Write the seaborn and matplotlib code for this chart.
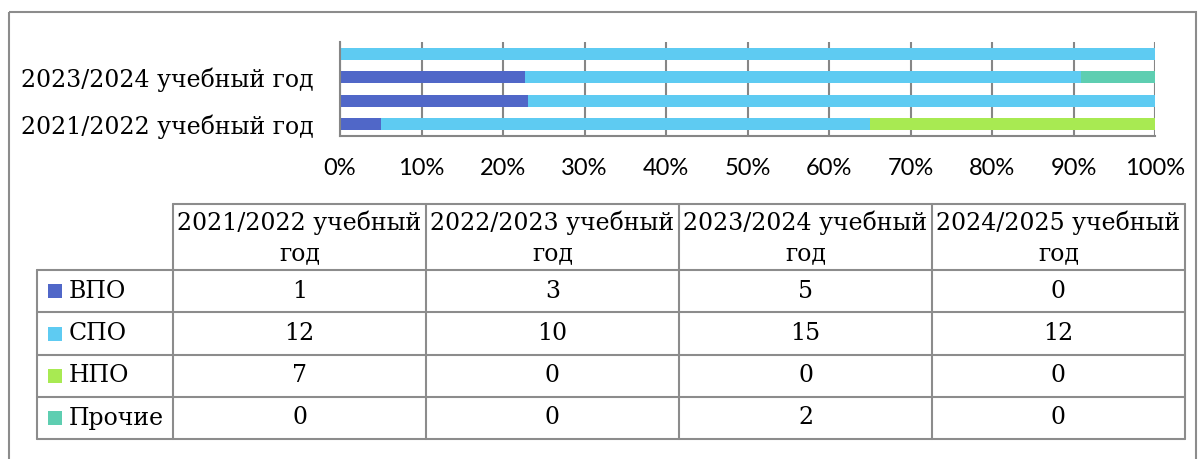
import numpy as np
import matplotlib
matplotlib.use("Agg")
import matplotlib.pyplot as plt
import seaborn as sns
from matplotlib.patches import Rectangle

# data
years = ["2021/2022 учебный год", "2022/2023 учебный год",
         "2023/2024 учебный год", "2024/2025 учебный год"]
series = ["ВПО", "СПО", "НПО", "Прочие"]
vpo = [1, 3, 5, 0]
spo = [12, 10, 15, 12]
npo = [7, 0, 0, 0]
other = [0, 0, 2, 0]
colors = ["#5067C8", "#5ECBF2", "#A8EA52", "#5ECEB1"]

sns.set_style("white")
serif = "DejaVu Serif"
sans = "Lato"
txt = "black"

W, H = 1201, 459
fig = plt.figure(figsize=(W / 100, H / 100), dpi=100)

# outer frame + table in pixel coords
bg = fig.add_axes([0, 0, 1, 1])
bg.set_xlim(0, W)
bg.set_ylim(H, 0)
bg.axis("off")
bg.add_patch(Rectangle((9, 12), 1187, 470, fill=False, ec="#8c8c8c", lw=1.5))

ax = fig.add_axes([340 / W, (H - 136) / H, 815 / W, 94 / H])

values = np.array([vpo, spo, npo, other], dtype=float)
pct = values / values.sum(axis=0) * 100
cum = np.cumsum(pct, axis=0)
order = years[::-1]

# stacked bars: draw cumulative totals, biggest first
for i in range(len(series) - 1, -1, -1):
    sns.barplot(x=list(cum[i]), y=years, order=order, color=colors[i],
                orient="h", width=0.5, saturation=1, linewidth=0, ax=ax)

ax.set_xlim(0, 100)
ax.set_xticks(range(0, 101, 10))
ax.set_xticklabels([f"{v}%" for v in range(0, 101, 10)], family=sans,
                   fontsize=17, color=txt)
ax.set_yticks(range(len(order)))
ax.set_yticklabels([y if y in (years[0], years[2]) else "" for y in order],
                   family=serif, fontsize=17, color=txt)
ax.tick_params(axis="x", length=0, pad=16)
ax.tick_params(axis="y", length=0, pad=19)
ax.grid(axis="x", color="#868686", lw=1.5)
ax.set_axisbelow(True)
for s in ["top", "right"]:
    ax.spines[s].set_visible(False)
for s in ["left", "bottom"]:
    ax.spines[s].set_color("#868686")
    ax.spines[s].set_linewidth(1.5)
ax.set_xlabel("")
ax.set_ylabel("")

# data table
col_edges = [173, 426, 679, 932, 1185]
row_edges = [270, 312, 355, 397, 439]
head_top = 204
leg_left = 37
lc = "#8c8c8c"
lw = 1.5

bg.plot([col_edges[0], col_edges[-1]], [head_top, head_top], color=lc, lw=lw)
for x in col_edges:
    bg.plot([x, x], [head_top, row_edges[-1]], color=lc, lw=lw)
bg.plot([leg_left, leg_left], [row_edges[0], row_edges[-1]], color=lc, lw=lw)
for y in row_edges:
    bg.plot([leg_left, col_edges[-1]], [y, y], color=lc, lw=lw)

for j, name in enumerate(years):
    cx = (col_edges[j] + col_edges[j + 1]) / 2
    first, last = name.rsplit(" ", 1)
    bg.text(cx, 223, first, ha="center", va="center", family=serif,
            fontsize=17, color=txt)
    bg.text(cx, 254, last, ha="center", va="center", family=serif,
            fontsize=17, color=txt)

for i, name in enumerate(series):
    cy = (row_edges[i] + row_edges[i + 1]) / 2
    bg.add_patch(Rectangle((48, cy - 7), 14, 14, color=colors[i], lw=0))
    bg.text(69, cy, name, ha="left", va="center", family=serif, fontsize=17,
            color=txt)
    for j in range(len(years)):
        cx = (col_edges[j] + col_edges[j + 1]) / 2
        bg.text(cx, cy, str(int(values[i, j])), ha="center", va="center",
                family=serif, fontsize=17, color=txt)

fig.savefig("out.png", dpi=100)
